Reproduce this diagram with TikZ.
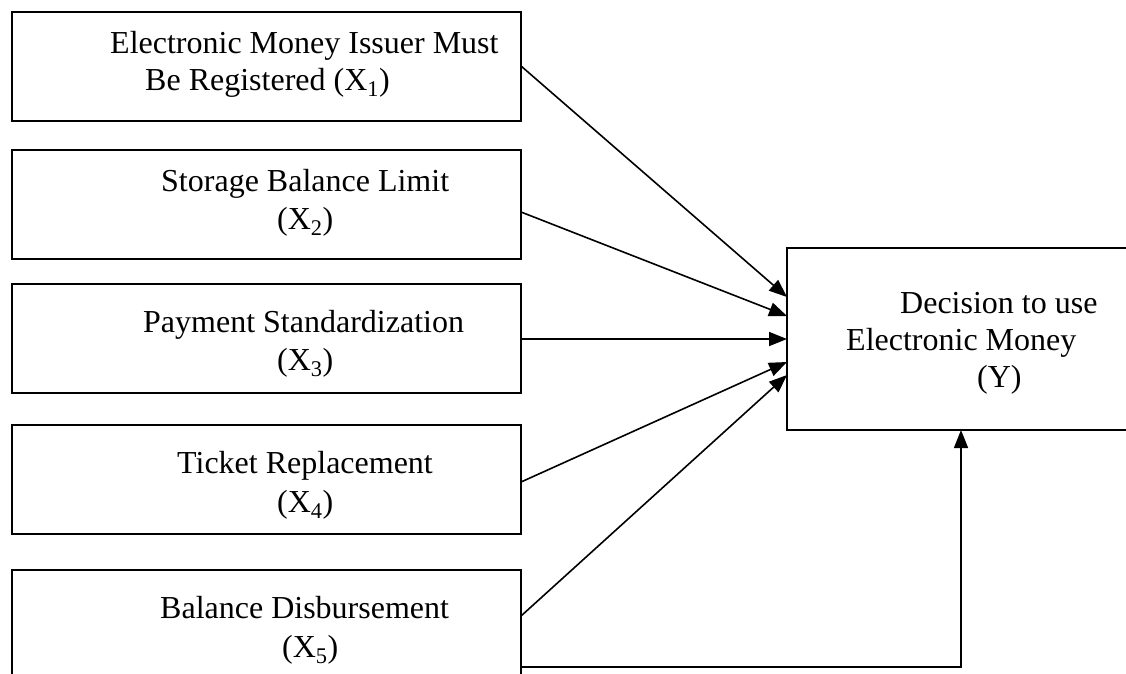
\documentclass[tikz,border=0pt]{standalone}
\usepackage{fontspec}
\setmainfont{Liberation Serif}
\usetikzlibrary{arrows.meta}
\begin{document}
\begin{tikzpicture}[x=1pt,y=-1pt,
  box/.style={draw,line width=1.7pt,inner sep=0pt,outer sep=0pt,anchor=north west},
  lbl/.style={anchor=base west,inner sep=0pt,font=\fontsize{32}{37}\selectfont},
  arr/.style={line width=1.6pt,-{Triangle[length=18pt,width=14pt]}}]
\useasboundingbox[fill=white] (0,0) rectangle (1126,673);
% left boxes
\node[box,minimum width=509pt,minimum height=109pt] (b1) at (12,12) {};
\node[box,minimum width=509pt,minimum height=109pt] (b2) at (12,150) {};
\node[box,minimum width=509pt,minimum height=109pt] (b3) at (12,284) {};
\node[box,minimum width=509pt,minimum height=109pt] (b4) at (12,425) {};
\node[box,minimum width=509pt,minimum height=130pt] (b5) at (12,570) {};
% right box
\node[box,minimum width=348pt,minimum height=182pt] (y) at (787,248) {};
% labels
\node[lbl] (t1a) at (110,53) {Electronic Money Issuer Must};
\node[lbl] (t1b) at (145,90) {Be Registered (X\textsubscript{1})};
\node[lbl] (t2a) at (161,191) {Storage Balance Limit};
\node[lbl] (t2b) at (277,229) {(X\textsubscript{2})};
\node[lbl] (t3a) at (143,332) {Payment Standardization};
\node[lbl] (t3b) at (277,370) {(X\textsubscript{3})};
\node[lbl] (t4a) at (177,473) {Ticket Replacement};
\node[lbl] (t4b) at (277,512) {(X\textsubscript{4})};
\node[lbl] (t5a) at (160,618) {Balance Disbursement};
\node[lbl] (t5b) at (282,657) {(X\textsubscript{5})};
\node[lbl] (ta) at (900,313) {Decision to use};
\node[lbl] (tb) at (846,350) {Electronic Money};
\node[lbl] (tc) at (977,387) {(Y)};
% connectors
\draw[arr] ([yshift=0.5pt]b1.east) -- ([yshift=42pt]y.west);
\draw[arr] ([yshift=-7.5pt]b2.east) -- ([yshift=23pt]y.west);
\draw[arr] ([yshift=-0.5pt]b3.east) -- (y.west);
\draw[arr] ([yshift=-2.5pt]b4.east) -- ([yshift=-23pt]y.west);
\draw[arr] ([yshift=19pt]b5.east) -- ([yshift=-36pt]y.west);
\draw[arr] ([yshift=-32pt]b5.east) -| (y.south);
\end{tikzpicture}
\end{document}
